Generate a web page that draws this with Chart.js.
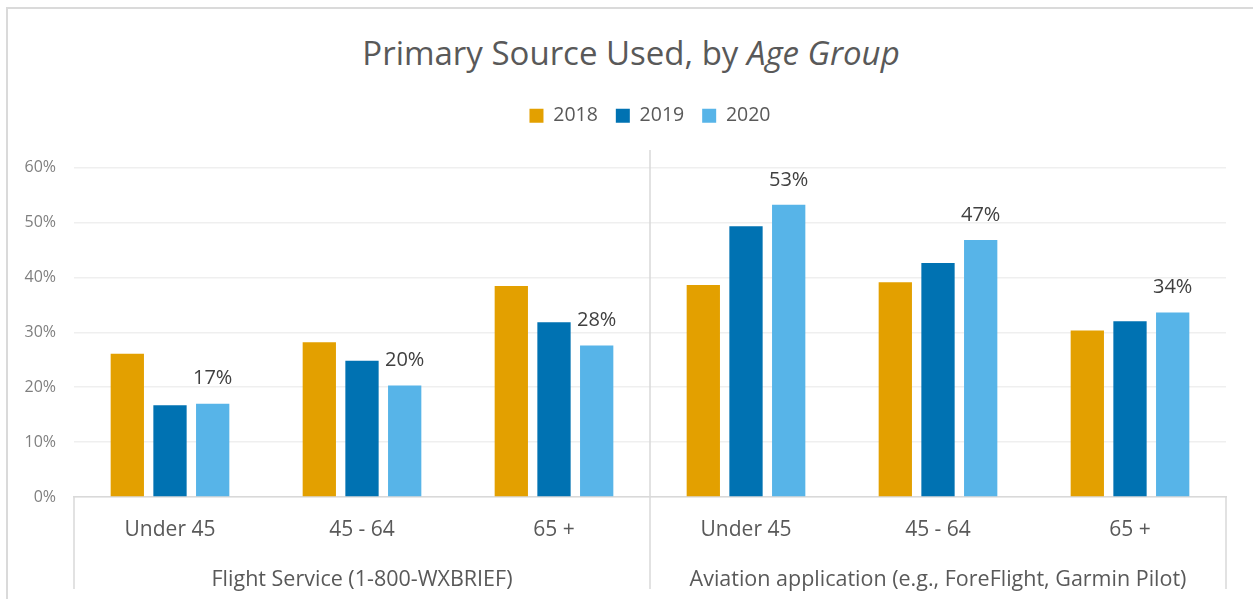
<!DOCTYPE html>
<html>
<head>
<meta charset="utf-8">
<script src="https://cdn.jsdelivr.net/npm/chart.js@4"></script>
<style>
    html, body { margin: 0; padding: 0; background: #fff; overflow: hidden; }
    #wrap { position: relative; width: 1253px; height: 599px; overflow: hidden; }
    #frame { position: absolute; left: 6px; top: 7px; width: 1300px; height: 700px; border: 2px solid #dadada; }
    #title { position: absolute; left: 0; top: 33px; width: 1262px; text-align: center;
             font-family: 'Open Sans', sans-serif; font-size: 33px; line-height: 40px; color: #595959; }
    canvas { position: absolute; left: 0; top: 0; }
</style>
</head>
<body>
<div id="wrap">
    <div id="frame"></div>
    <div id="title">Primary Source Used, by <i>Age Group</i></div>
    <canvas id="chart" width="1253" height="599"></canvas>
</div>
<script>
const ageGroups = ['Under 45', '45 - 64', '65 +', 'Under 45', '45 - 64', '65 +'];
const sourceGroups = ['Flight Service (1-800-WXBRIEF)', 'Aviation application (e.g., ForeFlight, Garmin Pilot)'];
const groupSizes = [3, 3];
const years = ['2018', '2019', '2020'];
const values2018 = [26.1, 28.2, 38.4, 38.6, 39.1, 30.3];
const values2019 = [16.7, 24.8, 31.8, 49.3, 42.6, 32.0];
const values2020 = [17.0, 20.3, 27.6, 53.2, 46.8, 33.6];
const yTicks = [0, 10, 20, 30, 40, 50, 60];

const font = "'Open Sans', sans-serif";
const lineGray = '#d9d9d9';

// lines between the two source groups (and at both ends) under the axis
const dividers = {
    id: 'dividers',
    afterDraw(chart) {
        const x = chart.scales.x;
        const ctx = chart.ctx;
        const area = chart.chartArea;
        let idx = -0.5;
        const bounds = [idx];
        groupSizes.forEach(n => { idx += n; bounds.push(idx); });
        ctx.save();
        ctx.strokeStyle = lineGray;
        ctx.lineWidth = 1.5;
        bounds.forEach((b, i) => {
            const px = x.getPixelForValue(b);
            const inner = i > 0 && i < bounds.length - 1;
            ctx.beginPath();
            ctx.moveTo(px, inner ? 150 : area.bottom);
            ctx.lineTo(px, 589);
            ctx.stroke();
        });
        ctx.restore();
    }
};

// value labels above the 2020 bars
const valueLabels = {
    id: 'valueLabels',
    afterDatasetsDraw(chart) {
        const ctx = chart.ctx;
        const meta = chart.getDatasetMeta(2);
        ctx.save();
        ctx.font = '20px ' + font;
        ctx.fillStyle = '#404040';
        ctx.textAlign = 'center';
        ctx.textBaseline = 'middle';
        meta.data.forEach((bar, i) => {
            ctx.fillText(Math.round(values2020[i]) + '%', bar.x, bar.y - 25);
        });
        ctx.restore();
    }
};

new Chart(document.getElementById('chart'), {
    type: 'bar',
    data: {
        labels: ageGroups,
        datasets: [
            { label: years[0], data: values2018, backgroundColor: '#e3a000' },
            { label: years[1], data: values2019, backgroundColor: '#0072b2' },
            { label: years[2], data: values2020, backgroundColor: '#57b4e8' }
        ]
    },
    options: {
        responsive: false,
        animation: false,
        devicePixelRatio: 1,
        categoryPercentage: 0.667,
        barPercentage: 0.78,
        layout: { padding: { top: 88, left: 0, right: 27, bottom: 0 } },
        plugins: {
            tooltip: { enabled: false },
            legend: {
                position: 'top',
                fullSize: false,
                labels: {
                    boxWidth: 14,
                    boxHeight: 14,
                    padding: 18,
                    color: '#595959',
                    font: { family: font, size: 19.5 }
                }
            },
            subtitle: {
                display: true,
                text: '',
                weight: 500,
                font: { size: 10, lineHeight: 1 },
                padding: { top: 0, bottom: 22 }
            }
        },
        scales: {
            x: {
                grid: { display: false },
                border: { display: true, color: lineGray, width: 1.5 },
                ticks: { padding: 12, color: '#595959', font: { family: font, size: 21 } },
                afterFit(scale) { scale.height = 55; }
            },
            x2: {
                type: 'category',
                position: 'bottom',
                labels: sourceGroups,
                offset: true,
                grid: { display: false },
                border: { display: false },
                ticks: { padding: 7, color: '#595959', font: { family: font, size: 21.5 } },
                afterFit(scale) { scale.height = 47; }
            },
            y: {
                min: yTicks[0],
                max: yTicks[yTicks.length - 1],
                grid: { color: '#efefef', lineWidth: 1.5, drawTicks: false },
                border: { display: false },
                ticks: {
                    stepSize: 10,
                    padding: 18,
                    color: '#7f7f7f',
                    font: { family: font, size: 16 },
                    callback: v => v + '%'
                },
                afterFit(scale) { scale.width = 74; }
            }
        }
    },
    plugins: [dividers, valueLabels]
});
</script>
</body>
</html>
